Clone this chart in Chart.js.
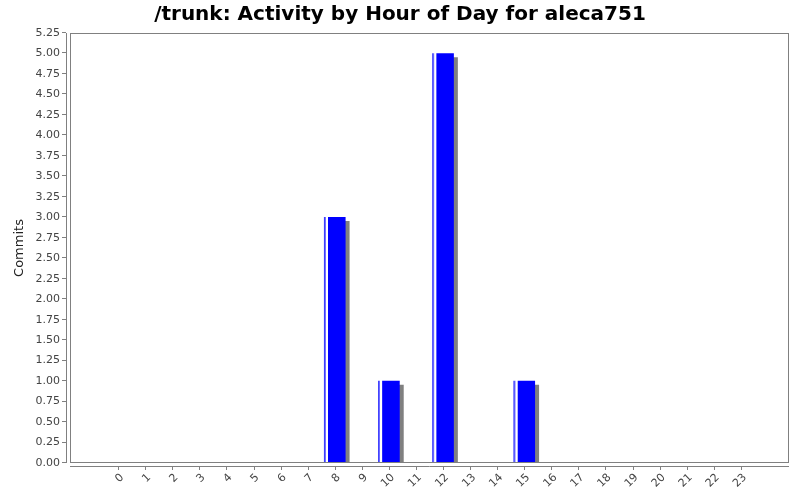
<!DOCTYPE html>
<html>
<head>
<meta charset="utf-8">
<script src="https://cdn.jsdelivr.net/npm/chart.js@4/dist/chart.umd.min.js"></script>
<style>
  html, body { margin: 0; padding: 0; background: #fff; }
  #wrap { width: 800px; height: 500px; }
</style>
</head>
<body>
<div id="wrap"><canvas id="activity-chart" width="800" height="500"></canvas></div>
<script>
// Hours of the day (x-axis) and commits per hour (y-axis)
const hourLabels = ["0", "1", "2", "3", "4", "5", "6", "7", "8", "9", "10", "11",
                    "12", "13", "14", "15", "16", "17", "18", "19", "20", "21", "22", "23"];
const commits = [0, 0, 0, 0, 0, 0, 0, 0, 3, 0, 1, 0,
                 5, 0, 0, 1, 0, 0, 0, 0, 0, 0, 0, 0];
const yTicks = [0, 0.25, 0.5, 0.75, 1, 1.25, 1.5, 1.75, 2, 2.25, 2.5, 2.75,
                3, 3.25, 3.5, 3.75, 4, 4.25, 4.5, 4.75, 5, 5.25];

const BAR_W = 21;
const AXIS_GREY = "#808080";

// Blue bar with a thin white highlight near its left edge
function barFill(context)
{
  const chart = context.chart;
  const xScale = chart.scales.x;
  if (!chart.chartArea || !xScale || !context.raw)
    return "#0000ff";
  const px = xScale.getPixelForValue(context.raw.x);
  const left = px - BAR_W / 2;
  const g = chart.ctx.createLinearGradient(left, 0, left + BAR_W, 0);
  g.addColorStop(0, "#3030ff");
  g.addColorStop(0.07, "#8080ff");
  g.addColorStop(0.1, "#ffffff");
  g.addColorStop(0.17, "#ffffff");
  g.addColorStop(0.2, "#0000ff");
  g.addColorStop(1, "#0000ff");
  return g;
}

// Grey drop shadow under the bars
const barShadow = {
  id: "barShadow",
  beforeDatasetDraw(chart)
  {
    const ctx = chart.ctx;
    ctx.save();
    ctx.shadowColor = "rgba(128,128,128,1)";
    ctx.shadowOffsetX = 4;
    ctx.shadowOffsetY = 4;
    ctx.shadowBlur = 0;
  },
  afterDatasetDraw(chart)
  {
    chart.ctx.restore();
  }
};

// Plot frame plus offset axis lines and tick marks
const plotFrame = {
  id: "plotFrame",
  afterDatasetsDraw(chart)
  {
    const ctx = chart.ctx;
    const a = chart.chartArea;
    const xs = chart.scales.x;
    const ys = chart.scales.y;
    ctx.save();
    ctx.strokeStyle = AXIS_GREY;
    ctx.lineWidth = 1;
    ctx.strokeRect(a.left + 0.5, a.top + 0.5, a.right - a.left - 1, a.bottom - a.top - 1);

    ctx.beginPath();
    // y axis
    ctx.moveTo(a.left - 3.5, a.top);
    ctx.lineTo(a.left - 3.5, a.bottom);
    ys.ticks.forEach(t => {
      const y = Math.round(ys.getPixelForValue(t.value)) - 0.5;
      ctx.moveTo(a.left - 8, y);
      ctx.lineTo(a.left - 4, y);
    });
    // x axis
    ctx.moveTo(a.left, a.bottom + 3.5);
    ctx.lineTo(a.right, a.bottom + 3.5);
    xs.ticks.forEach(t => {
      const x = Math.round(xs.getPixelForValue(t.value)) + 0.5;
      ctx.moveTo(x, a.bottom + 4);
      ctx.lineTo(x, a.bottom + 7);
    });
    ctx.stroke();
    ctx.restore();
  }
};

const ctx = document.getElementById("activity-chart");

new Chart(ctx,
  {
    type: "bar",
    data: {
      datasets: [{
        label: "Commits",
        data: hourLabels.map((h, i) => ({ x: i, y: commits[i] })),
        backgroundColor: barFill,
        borderWidth: 0,
        barThickness: BAR_W
      }]
    },
    plugins: [barShadow, plotFrame],
    options: {
      responsive: false,
      animation: false,
      layout: {
        padding: { left: 11, right: 11, top: 0, bottom: 0 }
      },
      plugins: {
        legend: { display: false },
        tooltip: { enabled: false },
        title: {
          display: true,
          text: "/trunk: Activity by Hour of Day for aleca751",
          color: "#000",
          font: { family: "DejaVu Sans", size: 20, weight: "bold", lineHeight: 1.2 },
          padding: { top: 3, bottom: 6 }
        }
      },
      scales: {
        x: {
          type: "linear",
          offset: false,
          min: -1.78,
          max: 24.78,
          grid: { display: false, drawTicks: false, offset: false },
          border: { display: false },
          afterBuildTicks: scale => {
            scale.ticks = hourLabels.map((h, i) => ({ value: i }));
          },
          afterFit: scale => { scale.height = 37; },
          ticks: {
            autoSkip: false,
            minRotation: 45,
            maxRotation: 45,
            padding: 8,
            labelOffset: 4,
            color: "#444",
            font: { family: "DejaVu Sans", size: 11 },
            callback: value => hourLabels[value]
          }
        },
        y: {
          min: 0,
          max: 5.25,
          grid: { display: false, drawTicks: false },
          border: { display: false },
          afterBuildTicks: scale => {
            scale.ticks = yTicks.map(v => ({ value: v }));
          },
          afterFit: scale => { scale.width = 59; },
          title: {
            display: true,
            text: "Commits",
            color: "#222",
            font: { family: "DejaVu Sans", size: 13 },
            padding: { top: 1, bottom: 0 }
          },
          ticks: {
            padding: 10,
            color: "#444",
            font: { family: "DejaVu Sans", size: 11 },
            callback: value => value.toFixed(2)
          }
        }
      }
    }
  });
</script>
</body>
</html>
